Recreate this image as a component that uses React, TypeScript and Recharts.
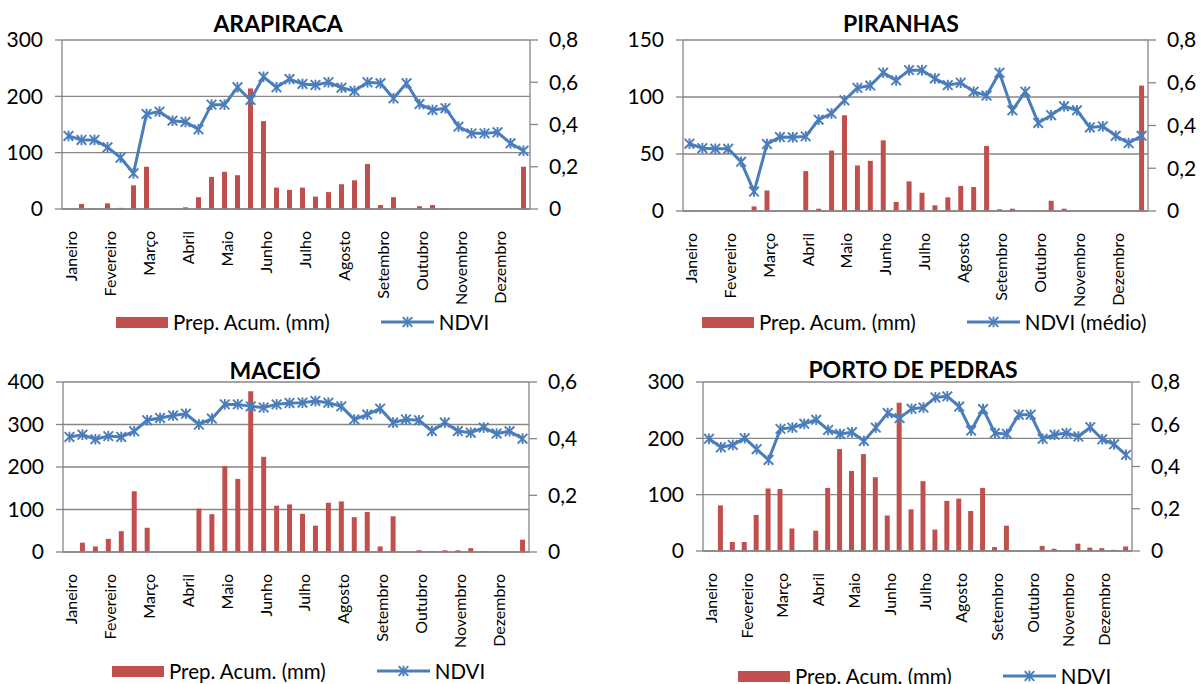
import React from 'react';
import { ComposedChart, Bar, Line, XAxis, YAxis, CartesianGrid, Legend } from 'recharts';

// ---------- DATA ----------
const months = ['Janeiro', 'Fevereiro', 'Março', 'Abril', 'Maio', 'Junho', 'Julho', 'Agosto', 'Setembro', 'Outubro', 'Novembro', 'Dezembro'];
// 36 ten-day periods (3 per month)
const periods = Array.from({ length: 36 }, (_, i) => i);

const arapiracaPrep = [0, 9, 1, 10, 2, 42, 75, 0, 0, 3, 21, 57, 66, 60, 214, 156, 38, 34, 38, 22, 30, 44, 51, 80, 7, 21, 0.5, 5, 7, 1, 0, 0, 0, 0, 0, 75];
const arapiracaNdvi = [0.346, 0.327, 0.327, 0.292, 0.243, 0.169, 0.45, 0.461, 0.418, 0.412, 0.377, 0.494, 0.494, 0.576, 0.516, 0.626, 0.576, 0.615, 0.592, 0.587, 0.6, 0.574, 0.559, 0.6, 0.595, 0.524, 0.595, 0.497, 0.469, 0.477, 0.39, 0.358, 0.358, 0.363, 0.311, 0.276];

const piranhasPrep = [0.5, 0, 0, 0, 0, 4, 18, 0, 0, 35, 2, 53, 84, 40, 44, 62, 8, 26, 16, 5, 12, 22, 21, 57, 1.5, 2, 0, 0.5, 9, 2, 0, 0, 0, 0, 0, 110];
const piranhasNdvi = [0.315, 0.294, 0.291, 0.291, 0.23, 0.091, 0.313, 0.346, 0.345, 0.349, 0.427, 0.456, 0.518, 0.576, 0.587, 0.647, 0.611, 0.659, 0.659, 0.62, 0.589, 0.6, 0.558, 0.54, 0.647, 0.471, 0.558, 0.412, 0.448, 0.49, 0.471, 0.391, 0.396, 0.352, 0.318, 0.352];

const maceioPrep = [0, 22, 13, 31, 49, 143, 57, 0, 0, 0, 102, 89, 202, 172, 378, 224, 109, 112, 90, 62, 116, 119, 82, 94, 13, 84, 0, 4, 2, 4, 4, 9, 1, 0, 0, 29];
const maceioNdvi = [0.406, 0.414, 0.398, 0.409, 0.406, 0.426, 0.465, 0.473, 0.482, 0.488, 0.45, 0.471, 0.521, 0.521, 0.514, 0.51, 0.521, 0.526, 0.527, 0.533, 0.527, 0.514, 0.468, 0.485, 0.506, 0.457, 0.468, 0.465, 0.427, 0.457, 0.427, 0.421, 0.439, 0.418, 0.426, 0.4];

const portoPrep = [0, 81, 16, 16, 64, 111, 110, 40, 0, 36, 112, 181, 142, 172, 131, 63, 263, 74, 124, 38, 89, 93, 71, 112, 7, 45, 0.5, 0, 9, 4, 0, 13, 6, 5, 2, 8];
const portoNdvi = [0.531, 0.491, 0.502, 0.534, 0.482, 0.431, 0.578, 0.584, 0.602, 0.621, 0.573, 0.554, 0.562, 0.521, 0.584, 0.653, 0.629, 0.673, 0.679, 0.727, 0.732, 0.684, 0.57, 0.672, 0.558, 0.554, 0.645, 0.645, 0.531, 0.55, 0.558, 0.542, 0.586, 0.529, 0.505, 0.455];

const arapiracaLeftTicks = [0, 100, 200, 300];
const piranhasLeftTicks = [0, 50, 100, 150];
const maceioLeftTicks = [0, 100, 200, 300, 400];
const portoLeftTicks = [0, 100, 200, 300];
const ndviTicks08 = [0, 0.2, 0.4, 0.6, 0.8];
const ndviTicks06 = [0, 0.2, 0.4, 0.6];

const prepName = 'Prep. Acum. (mm)';

// ---------- STYLE ----------
const FONT = "Lato, 'Open Sans', sans-serif";
const RED = '#C0504D';
const BLUE = '#4A7EBB';
const GRAY = '#868686';

const monthTickPositions = months.map((_, i) => i * 3 + 0.5);
const boundaryTicks = Array.from({ length: 13 }, (_, i) => i * 3);

const fmtNdvi = (v: number) => (v === 0 ? '0' : v.toFixed(1).replace('.', ','));

function StarDot(props: any) {
  const { cx, cy, index } = props;
  if (cx == null || cy == null) return <g key={index} />;
  const r = 4.8;
  return (
    <g key={`s${index}`} stroke={BLUE} strokeWidth={1.9}>
      <line x1={cx - r} y1={cy - r} x2={cx + r} y2={cy + r} />
      <line x1={cx - r} y1={cy + r} x2={cx + r} y2={cy - r} />
      <line x1={cx} y1={cy - r - 0.5} x2={cx} y2={cy + r + 0.5} />
    </g>
  );
}

function MonthTick(props: any) {
  const { x, y, payload } = props;
  const label = months[Math.floor(payload.value / 3)];
  return (
    <text
      transform={`translate(${x + 1.5},${y + 7}) rotate(-90)`}
      textAnchor="end"
      dominantBaseline="central"
      fontSize={16}
      fontFamily={FONT}
      fill="#000"
    >
      {label}
    </text>
  );
}

function LegendContent(props: any) {
  const items = [...(props.payload || [])].sort(
    (a: any, b: any) => (a.type === 'rect' ? 0 : 1) - (b.type === 'rect' ? 0 : 1)
  );
  return (
    <div style={{ display: 'flex', alignItems: 'center', height: 24, fontFamily: FONT, fontSize: 20.5, color: '#000', whiteSpace: 'nowrap' }}>
      {items.map((p: any, i: number) =>
        p.type === 'rect' ? (
          <span key={i} style={{ display: 'flex', alignItems: 'center' }}>
            <span style={{ display: 'inline-block', width: 52, height: 11, background: RED, marginRight: 5 }} />
            <span>{p.value}</span>
          </span>
        ) : (
          <span key={i} style={{ display: 'flex', alignItems: 'center', marginLeft: 51 }}>
            <svg width={53} height={14} style={{ marginRight: 5 }}>
              <line x1={0} y1={7} x2={53} y2={7} stroke={BLUE} strokeWidth={3} />
              <StarDot cx={26.5} cy={7} index={0} />
            </svg>
            <span>{p.value}</span>
          </span>
        )
      )}
    </div>
  );
}

type PanelProps = {
  title: string;
  titleX: number;
  titleY: number;
  prep: number[];
  ndvi: number[];
  ndviName: string;
  leftTicks: number[];
  rightTicks: number[];
  chartLeft: number;
  chartTop: number;
  width: number;
  plotL: number;
  plotR: number;
  plotT: number;
  plotB: number;
  legendCY: number;
  legendLeft: number;
};

function Panel(p: PanelProps) {
  const data = periods.map((i) => ({ x: i + 0.5, prep: p.prep[i], ndvi: p.ndvi[i] }));
  const height = p.legendCY + 12 - p.chartTop;
  const leftW = p.plotL - p.chartLeft;
  const rightW = p.chartLeft + p.width - p.plotR;
  const axesH = p.legendCY - 12 - p.plotB;
  const mainH = 7;
  return (
    <>
      <div
        style={{
          position: 'absolute',
          left: p.titleX - 250,
          top: p.titleY - 15,
          width: 500,
          height: 30,
          lineHeight: '30px',
          textAlign: 'center',
          fontFamily: FONT,
          fontWeight: 700,
          fontSize: 23,
          color: '#000',
          zIndex: 2,
        }}
      >
        {p.title}
      </div>
      <div style={{ position: 'absolute', left: p.chartLeft, top: p.chartTop }}>
        <ComposedChart
          width={p.width}
          height={height}
          data={data}
          margin={{ top: p.plotT - p.chartTop, right: 0, bottom: 0, left: 0 }}
          style={{ fontFamily: FONT }}
        >
          <CartesianGrid yAxisId="left" xAxisId="main" vertical={false} stroke={GRAY} strokeWidth={1.3} />
          <XAxis
            xAxisId="main"
            dataKey="x"
            type="number"
            domain={[0, 36]}
            ticks={boundaryTicks}
            interval={0}
            allowDataOverflow
            tick={false}
            tickSize={7}
            tickLine={{ stroke: GRAY, strokeWidth: 1.3 }}
            axisLine={{ stroke: GRAY, strokeWidth: 1.3 }}
            height={mainH}
          />
          <XAxis
            xAxisId="months"
            dataKey="x"
            type="number"
            domain={[0, 36]}
            ticks={monthTickPositions}
            interval={0}
            allowDataOverflow
            axisLine={false}
            tickLine={false}
            tick={<MonthTick />}
            height={axesH - mainH}
          />
          <YAxis
            yAxisId="left"
            orientation="left"
            width={leftW}
            domain={[p.leftTicks[0], p.leftTicks[p.leftTicks.length - 1]]}
            ticks={p.leftTicks}
            interval={0}
            allowDataOverflow
            tickSize={7}
            tickMargin={12}
            tick={{ fill: '#000', fontSize: 21, fontFamily: FONT }}
            tickLine={{ stroke: GRAY, strokeWidth: 1.3 }}
            axisLine={{ stroke: GRAY, strokeWidth: 1.3 }}
          />
          <YAxis
            yAxisId="right"
            orientation="right"
            width={rightW}
            domain={[p.rightTicks[0], p.rightTicks[p.rightTicks.length - 1]]}
            ticks={p.rightTicks}
            interval={0}
            allowDataOverflow
            tickFormatter={fmtNdvi}
            tickSize={8}
            tickMargin={11}
            tick={{ fill: '#000', fontSize: 21, fontFamily: FONT, textAnchor: 'start' }}
            tickLine={{ stroke: GRAY, strokeWidth: 1.3 }}
            axisLine={{ stroke: GRAY, strokeWidth: 1.3 }}
          />
          <Bar xAxisId="main" yAxisId="left" dataKey="prep" name={prepName} fill={RED} barSize={5} isAnimationActive={false} legendType="rect" />
          <Line
            xAxisId="main"
            yAxisId="right"
            dataKey="ndvi"
            name={p.ndviName}
            type="linear"
            stroke={BLUE}
            strokeWidth={3}
            dot={StarDot}
            activeDot={false}
            isAnimationActive={false}
            legendType="line"
          />
          <Legend
            verticalAlign="bottom"
            content={<LegendContent />}
            wrapperStyle={{ height: 24, left: p.legendLeft - p.chartLeft, width: 'auto', bottom: 0 }}
          />
        </ComposedChart>
      </div>
    </>
  );
}

export default function App() {
  return (
    <div style={{ position: 'absolute', left: 0, top: 0, width: 1201, height: 684, background: '#fff', overflow: 'hidden' }}>
      <Panel
        title="ARAPIRACA" titleX={278} titleY={22.5}
        prep={arapiracaPrep} ndvi={arapiracaNdvi} ndviName="NDVI"
        leftTicks={arapiracaLeftTicks} rightTicks={ndviTicks08}
        chartLeft={0} chartTop={0} width={600}
        plotL={62} plotR={530} plotT={40} plotB={209}
        legendCY={322} legendLeft={116}
      />
      <Panel
        title="PIRANHAS" titleX={901} titleY={22.5}
        prep={piranhasPrep} ndvi={piranhasNdvi} ndviName="NDVI (médio)"
        leftTicks={piranhasLeftTicks} rightTicks={ndviTicks08}
        chartLeft={600} chartTop={0} width={601}
        plotL={683} plotR={1148} plotT={40} plotB={211}
        legendCY={322} legendLeft={702}
      />
      <Panel
        title="MACEIÓ" titleX={275} titleY={369.5}
        prep={maceioPrep} ndvi={maceioNdvi} ndviName="NDVI"
        leftTicks={maceioLeftTicks} rightTicks={ndviTicks06}
        chartLeft={0} chartTop={340} width={600}
        plotL={63} plotR={529} plotT={382} plotB={552}
        legendCY={671} legendLeft={112}
      />
      <Panel
        title="PORTO DE PEDRAS" titleX={913} titleY={369}
        prep={portoPrep} ndvi={portoNdvi} ndviName="NDVI"
        leftTicks={portoLeftTicks} rightTicks={ndviTicks08}
        chartLeft={600} chartTop={340} width={601}
        plotL={703} plotR={1132} plotT={382} plotB={551}
        legendCY={676} legendLeft={738}
      />
    </div>
  );
}
